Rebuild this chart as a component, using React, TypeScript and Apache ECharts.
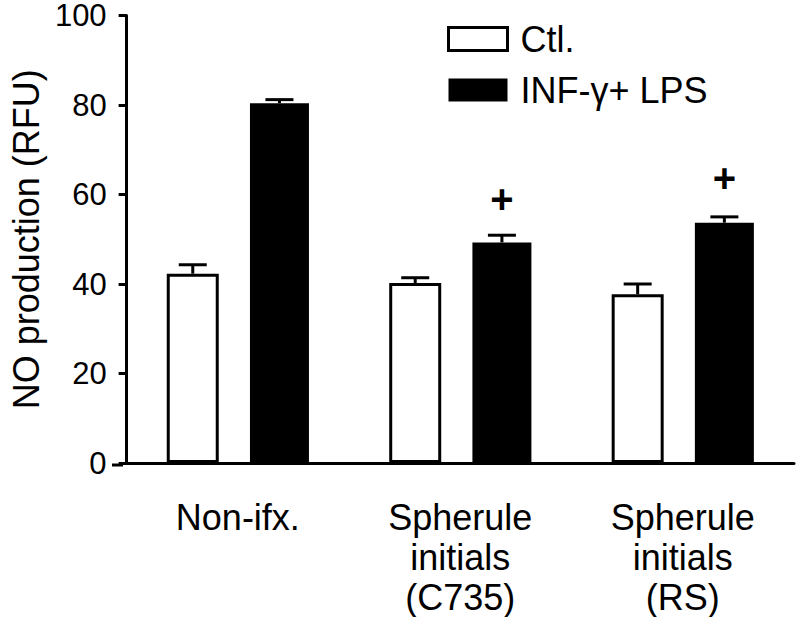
import React, { useEffect, useRef } from "react";
import * as echarts from "echarts";

const categories = ["Non-ifx.", "Spherule\ninitials\n(C735)", "Spherule\ninitials\n(RS)"];
const seriesNames = ["Ctl.", "INF-\u03b3+ LPS"];
const ctlValues = [42.3, 40.2, 37.7];
const ctlErrors = [2.0, 1.2, 2.3];
const infValues = [80.4, 49.3, 53.7];
const infErrors = [0.8, 1.6, 1.3];
const infMarks = ["", "+", "+"];
const infMarkValues = [0, 58.9, 63.6];
const yTicks = [0, 20, 40, 60, 80, 100];

const FONT = "'Liberation Sans', Arial, Helvetica, sans-serif";
const CTL_W = 52;
const INF_W = 59;
const GAP = 0.6;

export default function App() {
  const ref = useRef<HTMLDivElement>(null);
  useEffect(() => {
    document.body.style.margin = "0";
    if (!ref.current) return;
    const chart = echarts.init(ref.current, null, { renderer: "svg" });
    const total = CTL_W + INF_W + CTL_W * GAP;
    const ctlOff = -total / 2 + CTL_W / 2;
    const infOff = total / 2 - INF_W / 2;

    const errSeries = (name: string, vals: number[], errs: number[], off: number) => ({
      type: "custom",
      name: name + "-err",
      silent: true,
      z: 5,
      data: vals.map((v, i) => [i, v, v + errs[i]]),
      renderItem: (params: any, api: any) => {
        const i = api.value(0);
        const p0 = api.coord([i, api.value(1)]);
        const p1 = api.coord([i, api.value(2)]);
        const x = p0[0] + off;
        const half = 14;
        const style = { stroke: "#000", lineWidth: 3, fill: "none" };
        return {
          type: "group",
          children: [
            { type: "line", shape: { x1: x, y1: p0[1], x2: x, y2: p1[1] }, style },
            { type: "line", shape: { x1: x - half, y1: p1[1], x2: x + half, y2: p1[1] }, style },
          ],
        };
      },
    });

    chart.setOption({
      animation: false,
      textStyle: { fontFamily: FONT },
      grid: { left: 122, right: 6, top: 15, bottom: 152, containLabel: false },
      graphic: [
        { type: "line", shape: { x1: 112, y1: 465, x2: 123, y2: 465 }, style: { stroke: "#000", lineWidth: 3 } },
      ],
      legend: {
        orient: "vertical",
        left: 442,
        top: 16,
        itemWidth: 59,
        itemHeight: 23,
        itemGap: 15,
        textStyle: { fontSize: 36, color: "#000", fontFamily: FONT, padding: [0, 0, 0, 8] },
        data: [
          { name: seriesNames[0], icon: "rect", itemStyle: { color: "#fff", borderColor: "#000", borderWidth: 3 } },
          { name: seriesNames[1], icon: "rect", itemStyle: { color: "#000", borderWidth: 0 } },
        ],
      },
      xAxis: {
        type: "category",
        data: categories,
        axisLine: { lineStyle: { color: "#000", width: 3 } },
        axisTick: { alignWithLabel: true, length: 8, lineStyle: { color: "#000", width: 3 } },
        axisLabel: { color: "#000", fontSize: 36, lineHeight: 40, margin: 34, fontFamily: FONT },
      },
      yAxis: {
        type: "value",
        min: 0,
        max: 100,
        interval: 20,
        name: "NO production (RFU)",
        nameLocation: "middle",
        nameGap: 78,
        nameTextStyle: { color: "#000", fontSize: 36, fontFamily: FONT },
        axisLine: { show: true, lineStyle: { color: "#000", width: 3 } },
        axisTick: { show: true, length: 8, lineStyle: { color: "#000", width: 3 } },
        axisLabel: {
          color: "#000",
          fontSize: 31,
          margin: 20,
          fontFamily: FONT,
          formatter: (v: number) => (yTicks.includes(v) ? String(v) : ""),
        },
        splitLine: { show: false },
      },
      series: [
        {
          type: "bar",
          name: seriesNames[0],
          data: ctlValues,
          barWidth: CTL_W,
          barGap: GAP * 100 + "%",
          itemStyle: { color: "#fff", borderColor: "#000", borderWidth: 3 },
        },
        {
          type: "bar",
          name: seriesNames[1],
          data: infValues,
          barWidth: INF_W,
          itemStyle: { color: "#000" },
        },
        errSeries(seriesNames[0], ctlValues, ctlErrors, ctlOff),
        errSeries(seriesNames[1], infValues, infErrors, infOff),
        {
          type: "custom",
          name: "sig",
          silent: true,
          z: 6,
          data: infMarkValues.map((v, i) => [i, v, infMarks[i]]),
          renderItem: (params: any, api: any) => {
            const i = api.value(0);
            const mark = infMarks[i];
            if (!mark) return null;
            const p = api.coord([i, api.value(1)]);
            return {
              type: "text",
              x: p[0] + infOff,
              y: p[1],
              style: {
                text: mark,
                fontSize: 40,
                fontWeight: "bold",
                fontFamily: FONT,
                fill: "#000",
                align: "center",
                verticalAlign: "middle",
              },
            };
          },
        },
      ],
    });
    return () => chart.dispose();
  }, []);
  return <div ref={ref} style={{ width: 800, height: 617 }} />;
}
